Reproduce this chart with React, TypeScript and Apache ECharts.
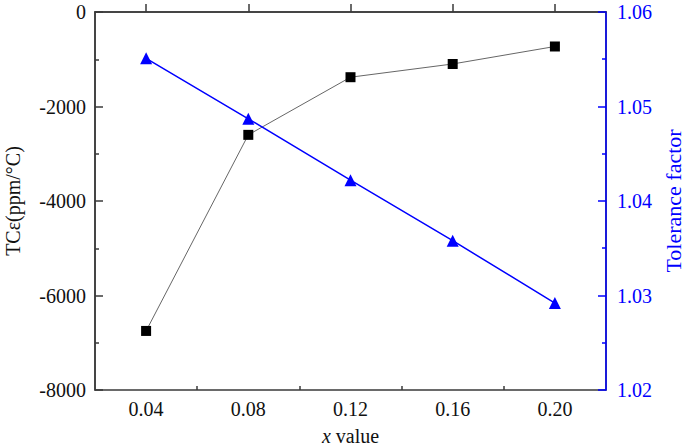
import React, { useEffect, useRef } from "react";
import * as echarts from "echarts";

const xValues = [0.04, 0.08, 0.12, 0.16, 0.2];
const tcValues = [-6750, -2600, -1380, -1100, -730];
const tfValues = [1.0551, 1.0487, 1.0422, 1.0358, 1.0292];
const xMajorTicks = [0.04, 0.08, 0.12, 0.16, 0.2];
const xMinorTicks = [0.06, 0.1, 0.14, 0.18];

const FONT = "'Liberation Serif', 'Times New Roman', serif";
const AXIS = "#3a3a3a";
const BLUE = "#0000ff";

export default function App() {
  const ref = useRef<HTMLDivElement>(null);
  useEffect(() => {
    if (!ref.current) return;
    const chart = echarts.init(ref.current, undefined, { renderer: "svg" });
    chart.setOption({
      animation: false,
      textStyle: { fontFamily: FONT },
      grid: {
        left: 95,
        right: 79,
        top: 12,
        bottom: 56,
        show: true,
        borderColor: AXIS,
        borderWidth: 1.5,
        containLabel: false,
        outerBoundsMode: "none",
      },
      xAxis: [
        {
          type: "value",
          min: 0.02,
          max: 0.22,
          position: "bottom",
          axisLine: { show: true, lineStyle: { color: AXIS, width: 1.5 } },
          axisTick: {
            show: true,
            inside: true,
            length: 8,
            customValues: xMajorTicks,
            lineStyle: { color: AXIS, width: 1.5 },
          },
          axisLabel: {
            customValues: xMajorTicks,
            formatter: (v: number) => v.toFixed(2),
            color: "#111",
            fontFamily: FONT,
            fontSize: 20,
            margin: 9,
          },
          splitLine: { show: false },
          name: "{i|x} {n|value}",
          nameLocation: "middle",
          nameGap: 36,
          nameTextStyle: {
            color: "#111",
            fontFamily: FONT,
            fontSize: 20,
            rich: {
              i: { fontStyle: "italic", fontFamily: FONT, fontSize: 20, color: "#111" },
              n: { fontFamily: FONT, fontSize: 20, color: "#111" },
            },
          },
        },
        {
          type: "value",
          min: 0.02,
          max: 0.22,
          position: "bottom",
          axisLine: { show: false },
          axisTick: {
            show: true,
            inside: true,
            length: 4,
            customValues: xMinorTicks,
            lineStyle: { color: AXIS, width: 1.5 },
          },
          axisLabel: { show: false },
          splitLine: { show: false },
        },
      ],
      yAxis: [
        {
          type: "value",
          min: -8000,
          max: 0,
          interval: 2000,
          position: "left",
          axisLine: { show: true, lineStyle: { color: AXIS, width: 1.5 } },
          axisTick: { show: true, inside: true, length: 8, lineStyle: { color: AXIS, width: 1.5 } },
          minorTick: { show: true, splitNumber: 2, length: 4, lineStyle: { color: AXIS, width: 1.5 } },
          axisLabel: {
            color: "#111",
            fontFamily: FONT,
            fontSize: 20,
            margin: 9,
            formatter: (v: number) => String(v),
          },
          splitLine: { show: false },
          name: "TCε(ppm/°C)",
          nameLocation: "middle",
          nameRotate: 90,
          nameGap: 72,
          nameTextStyle: { color: "#111", fontFamily: FONT, fontSize: 20 },
        },
        {
          type: "value",
          min: 1.02,
          max: 1.06,
          interval: 0.01,
          position: "right",
          axisLine: { show: true, lineStyle: { color: BLUE, width: 1.5 } },
          axisTick: { show: true, inside: true, length: 8, lineStyle: { color: BLUE, width: 1.5 } },
          minorTick: { show: true, splitNumber: 2, length: 4, lineStyle: { color: BLUE, width: 1.5 } },
          axisLabel: {
            color: BLUE,
            fontFamily: FONT,
            fontSize: 20,
            margin: 11,
            formatter: (v: number) => v.toFixed(2),
          },
          splitLine: { show: false },
          name: "Tolerance factor",
          nameLocation: "middle",
          nameRotate: 90,
          nameGap: 43,
          nameTextStyle: { color: BLUE, fontFamily: FONT, fontSize: 22 },
        },
      ],
      series: [
        {
          type: "line",
          xAxisIndex: 0,
          yAxisIndex: 0,
          data: xValues.map((x, i) => [x, tcValues[i]]),
          symbol: "rect",
          symbolSize: 10,
          itemStyle: { color: "#000" },
          lineStyle: { color: "#666", width: 1 },
        },
        {
          type: "line",
          xAxisIndex: 0,
          yAxisIndex: 1,
          data: xValues.map((x, i) => [x, tfValues[i]]),
          symbol: "triangle",
          symbolSize: 12,
          itemStyle: { color: BLUE },
          lineStyle: { color: BLUE, width: 1.5 },
        },
      ],
    });
    return () => chart.dispose();
  }, []);
  return (
    <div
      ref={ref}
      style={{ position: "absolute", left: 0, top: 0, width: 685, height: 446 }}
    />
  );
}
